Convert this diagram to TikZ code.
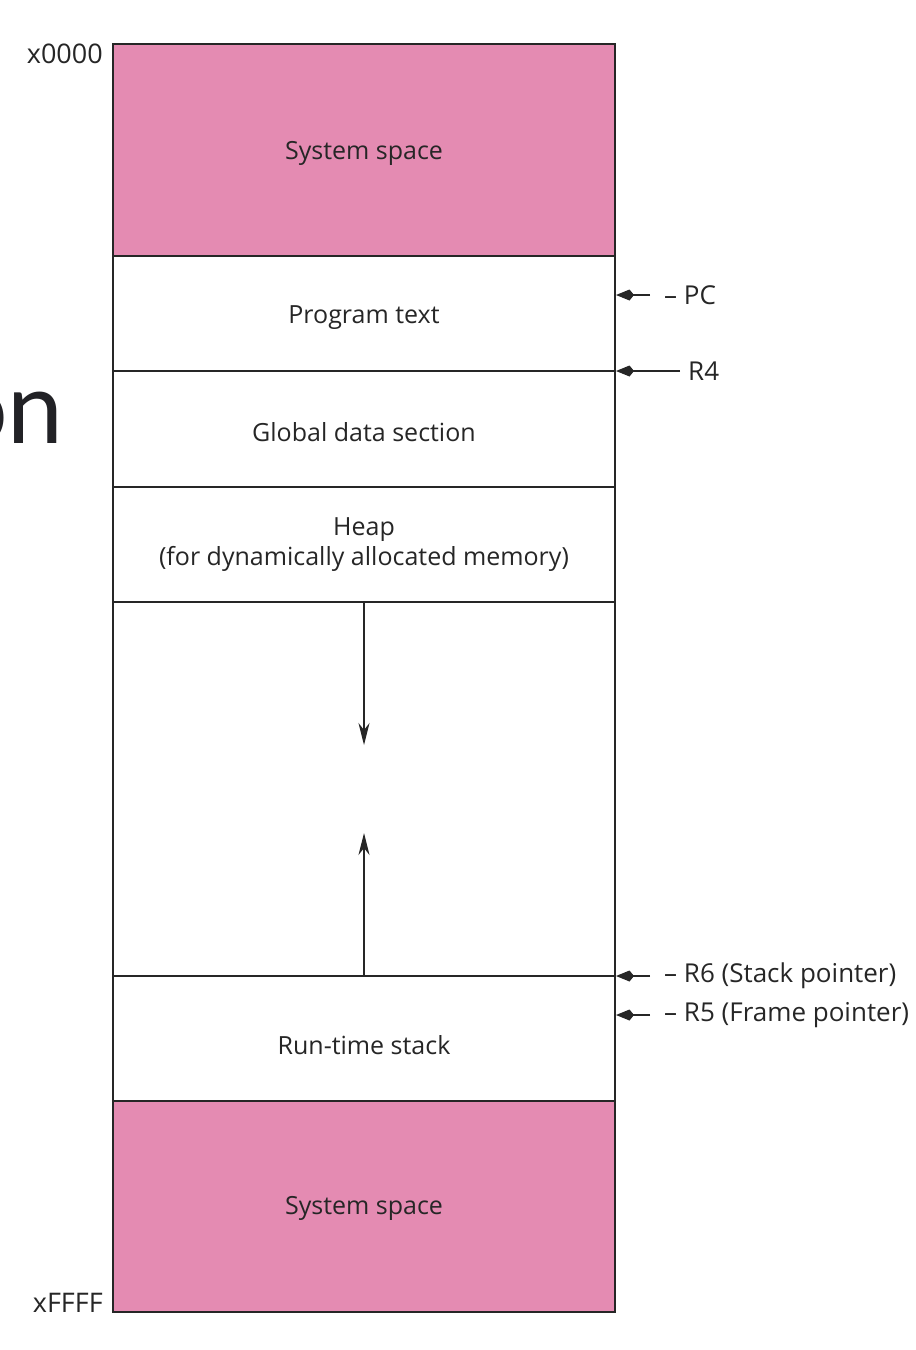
\documentclass[tikz,border=0pt]{standalone}
\usepackage{fontspec}
\setmainfont{Open Sans}
\newfontfamily\bigfont{Lato}
\usetikzlibrary{arrows.meta}
\definecolor{syspink}{RGB}{228,139,178}
\definecolor{ink}{RGB}{38,38,38}
\begin{document}
\begin{tikzpicture}[x=1pt,y=-1pt,
  seg/.style={draw=ink,line width=1.3pt},
  lbl/.style={font=\fontsize{25}{30}\selectfont,text=ink,align=center},
  side/.style={font=\fontsize{26}{30}\selectfont,text=ink,anchor=west,inner sep=0pt},
  addr/.style={font=\fontsize{27}{30}\selectfont,text=ink,anchor=east,inner sep=0pt},
  ptr/.style={draw=ink,line width=1.3pt,-{Kite[length=18pt,width=11pt]}},
  growarrow/.style={draw=ink,line width=1.3pt,-{Stealth[length=22pt,width=11pt,inset=7pt]}}]
\useasboundingbox (0,0) rectangle (916,1350);
% regions
\fill[syspink] (113,44) rectangle (615,256);
\fill[syspink] (113,1101) rectangle (615,1312);
\draw[seg] (113,44) rectangle (615,1312);
\draw[seg] (113,256) -- (615,256);
\draw[seg] (113,371) -- (615,371);
\draw[seg] (113,487) -- (615,487);
\draw[seg] (113,602) -- (615,602);
\draw[seg] (113,976) -- (615,976);
\draw[seg] (113,1101) -- (615,1101);
% labels
\node[lbl] (sys1) at (364,153) {System space};
\node[lbl] (prog) at (364,318) {Program text};
\node[lbl] (glob) at (364,432) {Global data section};
\node[lbl] (heap) at (364,545) {Heap\\(for dynamically allocated memory)};
\node[lbl] (rts) at (364,1045) {Run-time stack};
\node[lbl] (sys2) at (364,1208) {System space};
\node[addr] (a0) at (103,54) {x0000};
\node[addr] (af) at (103,1303) {xFFFF};
\node[font=\bigfont\fontsize{100}{110}\selectfont,text={rgb,255:red,34;green,34;blue,38},anchor=east,inner sep=0pt] (on) at (64,418) {on};
% growth arrows
\coordinate (hs) at (364,602);
\coordinate (he) at (364,745);
\coordinate (ss) at (364,976);
\coordinate (se) at (364,833);
\draw[growarrow] (hs) -- (he);
\draw[growarrow] (ss) -- (se);
% pointers
\node[side] (pc) at (664,295) {\textendash\ PC};
\node[side] (r4) at (688,371) {R4};
\node[side] (r6) at (664,976) {\textendash\ R6 (Stack pointer)};
\node[side] (r5) at (664,1015) {\textendash\ R5 (Frame pointer)};
\coordinate (pcs) at (650,295);
\coordinate (pce) at (616,295);
\coordinate (r4s) at (680,371);
\coordinate (r4e) at (616,371);
\coordinate (r6s) at (650,976);
\coordinate (r6e) at (616,976);
\coordinate (r5s) at (650,1015);
\coordinate (r5e) at (616,1015);
\draw[ptr] (pcs) -- (pce);
\draw[ptr] (r4s) -- (r4e);
\draw[ptr] (r6s) -- (r6e);
\draw[ptr] (r5s) -- (r5e);
\end{tikzpicture}
\end{document}
